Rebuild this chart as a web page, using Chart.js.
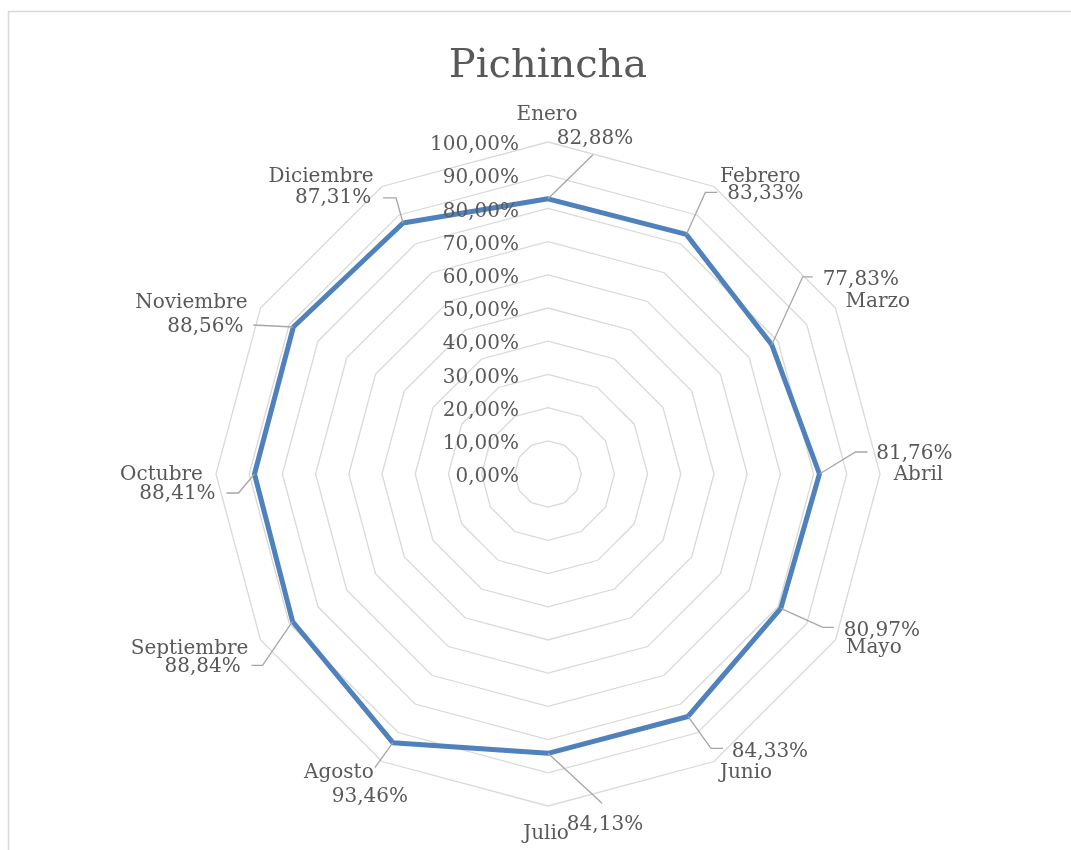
<!DOCTYPE html>
<html>
<head>
<meta charset="utf-8">
<script src="https://cdn.jsdelivr.net/npm/chart.js@4.4.1/dist/chart.umd.min.js"></script>
<style>
  body { margin: 0; background: #fff; }
  #caja { width: 1071px; height: 850px; }
</style>
</head>
<body>
<div id="caja"><canvas id="graficoRadar" width="1071" height="850"></canvas></div>
<script>
// Datos del gráfico radar (Pichincha)
const titulo = 'Pichincha';
const meses = ['Enero', 'Febrero', 'Marzo', 'Abril', 'Mayo', 'Junio',
  'Julio', 'Agosto', 'Septiembre', 'Octubre', 'Noviembre', 'Diciembre'];
const valores = [82.88, 83.33, 77.83, 81.76, 80.97, 84.33,
  84.13, 93.46, 88.84, 88.41, 88.56, 87.31];
const valoresEje = [0, 10, 20, 30, 40, 50, 60, 70, 80, 90, 100];
const etiquetasEje = ['0,00%', '10,00%', '20,00%', '30,00%', '40,00%', '50,00%',
  '60,00%', '70,00%', '80,00%', '90,00%', '100,00%'];

// posicion de las etiquetas (relativa al punto): mes, valor y linea guia
const ubicacion = [
  { mes: [-1, -84], val: [47, -60], guia: [[45, -44]] },
  { mes: [74, -58], val: [79, -41], guia: [[19, -42], [31, -42]] },
  { mes: [106, -43], val: [89, -65], guia: [[31, -68], [41, -68]] },
  { mes: [99, 1], val: [95, -20], guia: [[36, -22], [48, -22]] },
  { mes: [93, 39], val: [101, 22], guia: [[42, 19], [53, 19]] },
  { mes: [58, 56], val: [82, 35], guia: [[23, 32], [35, 32]] },
  { mes: [-2, 80], val: [57, 71], guia: [[54, 50]] },
  { mes: [-54, 30], val: [-23, 54], guia: [[-18, 25]] },
  { mes: [-103, 27], val: [-90, 45], guia: [[-30, 44], [-41, 44]] },
  { mes: [-93, 1], val: [-77, 20], guia: [[-16, 19], [-28, 19]] },
  { mes: [-102, -24], val: [-88, 0], guia: [[-40, -2]] },
  { mes: [-82, -46], val: [-70, -25], guia: [[-7, -25], [-20, -25]] }
];

const fuente = '"DejaVu Serif", "Liberation Serif", serif';
const gris = '#595959';

const formato = v => v.toFixed(2).replace('.', ',') + '%';

const dibujoExcel = {
  id: 'dibujoExcel',
  beforeDraw(chart) {
    const ctx = chart.ctx;
    ctx.save();
    ctx.fillStyle = '#fff';
    ctx.fillRect(0, 0, chart.width, chart.height);
    ctx.strokeStyle = '#d9d9d9';
    ctx.lineWidth = 1.5;
    ctx.strokeRect(8.5, 11.5, chart.width + 10, chart.height + 10);
    ctx.restore();
  },
  afterDatasetsDraw(chart) {
    const ctx = chart.ctx;
    const esc = chart.scales.r;
    ctx.save();

    // titulo
    ctx.fillStyle = gris;
    ctx.font = '40px ' + fuente;
    ctx.textAlign = 'center';
    ctx.textBaseline = 'alphabetic';
    ctx.fillText(titulo, esc.xCenter, 77);

    // etiquetas del eje
    ctx.font = '20px ' + fuente;
    ctx.textAlign = 'right';
    ctx.textBaseline = 'middle';
    valoresEje.forEach((v, i) => {
      const d = esc.getDistanceFromCenterForValue(v);
      ctx.fillText(etiquetasEje[i], esc.xCenter - 29, esc.yCenter - d + 3);
    });

    // etiquetas de datos con lineas guia
    ctx.textAlign = 'center';
    valores.forEach((v, i) => {
      const p = esc.getPointPosition(i, esc.getDistanceFromCenterForValue(v));
      const u = ubicacion[i];
      ctx.strokeStyle = '#a6a6a6';
      ctx.lineWidth = 1.3;
      ctx.beginPath();
      ctx.moveTo(p.x, p.y);
      u.guia.forEach(g => ctx.lineTo(p.x + g[0], p.y + g[1]));
      ctx.stroke();
      ctx.fillStyle = gris;
      ctx.fillText(meses[i], p.x + u.mes[0], p.y + u.mes[1]);
      ctx.fillText(formato(v), p.x + u.val[0], p.y + u.val[1]);
    });
    ctx.restore();
  }
};

const ctxRadar = document.getElementById('graficoRadar').getContext('2d');
new Chart(ctxRadar, {
  type: 'radar',
  data: {
    labels: meses,
    datasets: [{
      label: titulo,
      data: valores,
      borderColor: '#4f81bd',
      backgroundColor: 'rgba(0,0,0,0)',
      borderWidth: 5,
      borderJoinStyle: 'round',
      fill: false,
      pointRadius: 0,
      pointHoverRadius: 0,
      tension: 0
    }]
  },
  options: {
    responsive: false,
    animation: false,
    layout: {
      padding: { left: 216, right: 191, top: 142, bottom: 44 }
    },
    plugins: {
      legend: { display: false },
      title: { display: false },
      tooltip: { enabled: false }
    },
    scales: {
      r: {
        min: 0,
        max: 100,
        beginAtZero: true,
        ticks: { display: false, stepSize: 10 },
        pointLabels: { display: false },
        angleLines: { display: false },
        grid: { color: '#d9d9d9', lineWidth: 1.3, circular: false }
      }
    }
  },
  plugins: [dibujoExcel]
});
</script>
</body>
</html>
